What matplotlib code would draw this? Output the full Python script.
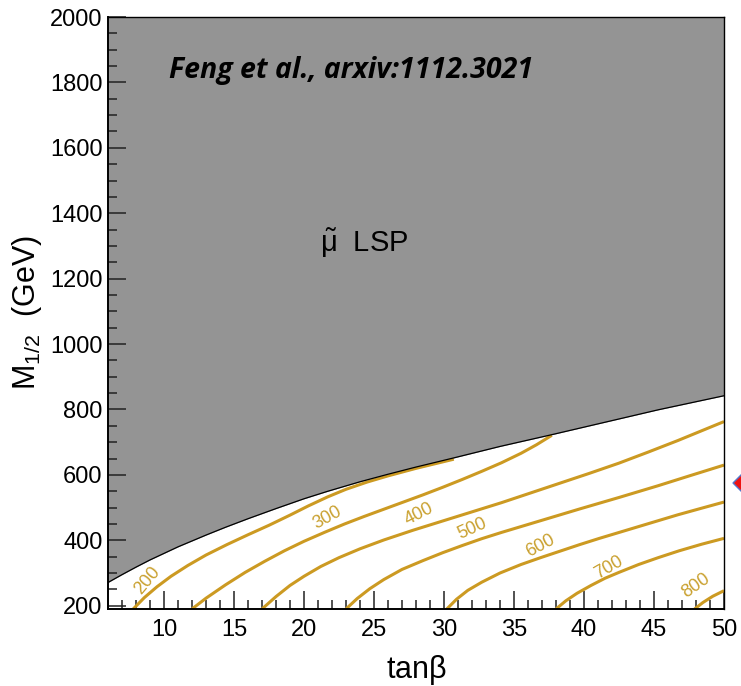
import matplotlib
matplotlib.use("Agg")
import matplotlib.pyplot as plt
from matplotlib.ticker import MultipleLocator
from matplotlib.patches import Polygon

plt.rcParams['font.family'] = ['Liberation Sans', 'DejaVu Sans']
plt.rcParams['mathtext.fontset'] = 'custom'
plt.rcParams['mathtext.rm'] = 'Liberation Sans'
plt.rcParams['mathtext.it'] = 'Liberation Sans:italic'
plt.rcParams['mathtext.bf'] = 'Liberation Sans:bold'

# Boundary of the region where the smuon is the LSP
tanb_boundary = [6, 7, 8, 9, 10, 11, 12, 13, 14.4, 16, 18, 20, 21.7, 24, 26,
                 28, 30.7, 34, 37.7, 41.5, 45.3, 50]
m12_boundary = [271, 295, 318, 340, 360, 380, 398, 416, 440, 466, 497, 527,
                550, 579, 602, 624, 652, 687, 723, 761, 799, 842]

# Mass contours (tan beta, M_1/2) for each labelled level
contour_levels = [200, 300, 400, 500, 600, 700, 800]
contour_tanb = {
    200: [7.8, 8.6, 9.5, 10.5, 11.7, 13.0, 14.5, 16.0, 17.5, 19.0, 20.3,
          21.7, 23.0, 24.5, 26.0, 28.0, 30.7],
    300: [12.0, 13.0, 14.4, 15.8, 17.2, 18.6, 20.0, 21.5, 22.9, 24.3, 25.7,
          27.1, 28.5, 29.9, 31.3, 32.7, 34.1, 35.5, 36.6, 37.7],
    400: [17.0, 18.0, 19.0, 20.0, 21.2, 22.5, 24.0, 25.7, 27.8, 29.9, 32.0,
          34.1, 36.2, 38.3, 40.4, 42.5, 44.6, 46.7, 50.0],
    500: [23.0, 23.8, 24.7, 25.7, 27.0, 28.5, 29.9, 31.3, 32.7, 34.1, 35.5,
          36.9, 38.3, 39.7, 42.5, 45.3, 47.6, 50.0],
    600: [30.2, 30.9, 31.7, 32.7, 34.0, 35.5, 36.9, 38.3, 39.7, 41.1, 42.5,
          43.9, 45.3, 46.7, 48.3, 50.0],
    700: [38.0, 38.7, 39.5, 40.5, 41.5, 42.5, 43.9, 45.3, 46.8, 48.4, 50.0],
    800: [47.9, 48.5, 49.2, 50.0],
}
contour_m12 = {
    200: [190, 225, 258, 290, 323, 355, 387, 417, 446, 477, 505, 533, 556,
          578, 597, 620, 648],
    300: [190, 223, 264, 302, 336, 368, 397, 425, 450, 473, 495, 517, 539,
          562, 586, 611, 637, 666, 692, 721],
    400: [190, 228, 262, 290, 320, 347, 374, 401, 431, 459, 487, 515, 545,
          575, 605, 636, 670, 705, 763],
    500: [190, 222, 252, 280, 311, 338, 362, 384, 405, 424, 442, 460, 478,
          496, 531, 567, 598, 630],
    600: [190, 220, 247, 272, 300, 326, 347, 367, 387, 406, 424, 442, 460,
          478, 497, 517],
    700: [190, 215, 238, 262, 284, 302, 326, 347, 368, 388, 406],
    800: [190, 210, 229, 246],
}
# Label anchor positions and angles for the contour values
label_tanb = [8.8, 21.7, 28.2, 32.0, 36.9, 41.8, 48.0]
label_m12 = [276, 470, 480, 434, 383, 317, 261]
label_rot = [50, 29, 27, 24, 28, 30, 35]

x_ticks = [10, 15, 20, 25, 30, 35, 40, 45, 50]
y_ticks = [200, 400, 600, 800, 1000, 1200, 1400, 1600, 1800, 2000]

gold = '#CC9A22'
gold_text = '#C9A02E'
gray = '#949494'

W, H = 741, 686
fig = plt.figure(figsize=(W / 100, H / 100), dpi=100)
ax = fig.add_axes([108 / W, 1 - 609 / H, (724 - 108) / W, (609 - 17) / H])

ax.set_xlim(6, 50)
ax.set_ylim(190, 2000)

ax.fill_between(tanb_boundary, m12_boundary, 2000, color=gray, lw=0, zorder=1)
ax.plot(tanb_boundary, m12_boundary, color='black', lw=0.9, zorder=3)

for lev in contour_levels:
    ax.plot(contour_tanb[lev], contour_m12[lev], color=gold, lw=2.2,
            solid_capstyle='butt', solid_joinstyle='round', zorder=2)

for lev, xt, yt, rot in zip(contour_levels, label_tanb, label_m12, label_rot):
    ax.text(xt, yt, str(lev), color=gold_text, fontsize=13, rotation=rot,
            rotation_mode='anchor', ha='center', va='center', zorder=4)

ax.text(0.3945, 0.897, 'Feng et al., arxiv:1112.3021', transform=ax.transAxes,
        ha='center', va='baseline', fontsize=20.5, fontweight='bold',
        fontstyle='italic', family=['Open Sans', 'DejaVu Sans'], color='black')
ax.text(24.3, 1280, r'$\tilde{\mathrm{\mu}}$  LSP', ha='center', va='baseline',
        fontsize=21, color='black')

ax.set_xticks(x_ticks)
ax.set_yticks(y_ticks)
ax.xaxis.set_minor_locator(MultipleLocator(1))
ax.yaxis.set_minor_locator(MultipleLocator(50))
ax.tick_params(which='both', direction='in', top=False, right=False,
               width=1.1, color='#222222')
ax.tick_params(which='major', length=13, labelsize=17)
ax.tick_params(axis='x', which='major', pad=7)
ax.tick_params(axis='y', which='major', pad=4)
ax.tick_params(which='minor', length=6.5)

for side in ['left', 'bottom']:
    ax.spines[side].set_linewidth(1.4)
for side in ['top', 'right']:
    ax.spines[side].set_linewidth(1.0)

ax.set_xlabel(r'tan$\mathrm{\beta}$', fontsize=22, labelpad=9)
ax.set_ylabel(r'M$_{\mathrm{1/2}}$  (GeV)', fontsize=22, labelpad=4)

# Small red pointer at the right edge
pointer = Polygon([[733, H - 483], [745, H - 471], [745, H - 495]],
                  closed=True, transform=None, facecolor='#EE1111',
                  edgecolor='#5577CC', lw=1.0)
fig.patches.append(pointer)

fig.savefig('out.png', dpi=100)
